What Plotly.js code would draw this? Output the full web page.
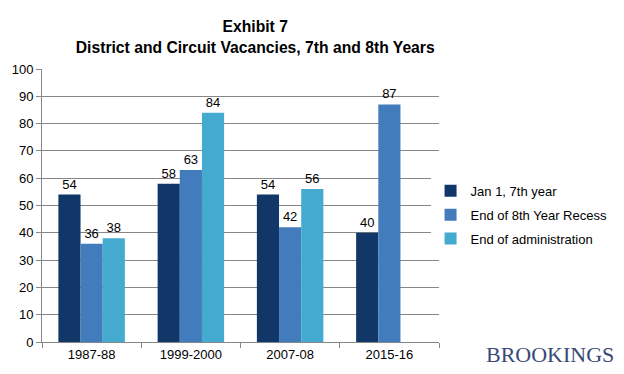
<!DOCTYPE html>
<html><head><meta charset="utf-8">
<script src="https://cdn.plot.ly/plotly-3.0.1.min.js"></script>
<style>body{margin:0;background:#fff}#chart{width:624px;height:374px}</style>
</head><body><div id="chart"></div>
<script>
const categories = ["1987-88", "1999-2000", "2007-08", "2015-16"];
const seriesNames = ["Jan 1, 7th year", "End of 8th Year Recess", "End of administration"];
const jan1 = [54, 58, 54, 40];
const recess = [36, 63, 42, 87];
const endAdmin = [38, 84, 56, null];
const colors = ["rgb(16,55,104)", "rgb(67,124,189)", "rgb(68,170,208)"];
const yTicks = [0, 10, 20, 30, 40, 50, 60, 70, 80, 90, 100];

const values = [jan1, recess, endAdmin];
const traces = values.map((v, i) => ({
  type: "bar",
  name: seriesNames[i],
  legendgroup: "g" + i,
  x: categories,
  y: v,
  marker: {color: colors[i]},
  text: v.map(d => d == null ? "" : String(d)),
  textposition: "outside",
  cliponaxis: false,
  textfont: {family: "Liberation Sans, Arial", size: 13, color: "#000"}
}));

const layout = {
  width: 624, height: 374,
  margin: {l: 42, r: 185, t: 69, b: 32, autoexpand: false},
  paper_bgcolor: "#fff", plot_bgcolor: "#fff",
  font: {family: "Liberation Sans, Arial", size: 13, color: "#000"},
  title: {
    text: "<b>Exhibit 7<br>District and Circuit Vacancies, 7th and 8th Years</b>",
    xref: "container", yref: "container",
    x: 0.409, xanchor: "center", y: 0.914, yanchor: "middle",
    font: {family: "Liberation Sans, Arial", size: 15.7, color: "#000"}
  },
  barmode: "group", bargap: 0.33, bargroupgap: 0,
  showlegend: true,
  legend: {xref: "container", yref: "container", x: 0.69, y: 0.53,
    xanchor: "left", yanchor: "top",
    font: {family: "Liberation Sans, Arial", size: 13, color: "#000"},
    traceorder: "grouped", tracegroupgap: 4},
  xaxis: {
    type: "category", tickson: "boundaries", ticks: "outside", ticklen: 5,
    tickcolor: "#868686", showline: true, linecolor: "#868686", linewidth: 1,
    showgrid: false, tickfont: {size: 13}
  },
  yaxis: {
    range: [0, 100], tickvals: yTicks, ticks: "outside", ticklen: 5,
    tickcolor: "#868686", showline: true, linecolor: "#868686",
    showgrid: true, gridcolor: "#868686", gridwidth: 1, zeroline: false,
    tickfont: {size: 13}, fixedrange: true
  },
  annotations: [{
    text: "BROOKINGS", xref: "paper", yref: "paper", x: 1.4458, y: -0.099,
    xanchor: "right", yanchor: "bottom", showarrow: false,
    font: {family: "Liberation Serif, Times New Roman", size: 22, color: "#3a4a78"}
  }]
};
Plotly.newPlot("chart", traces, layout, {displayModeBar: false, staticPlot: true});
</script></body></html>
